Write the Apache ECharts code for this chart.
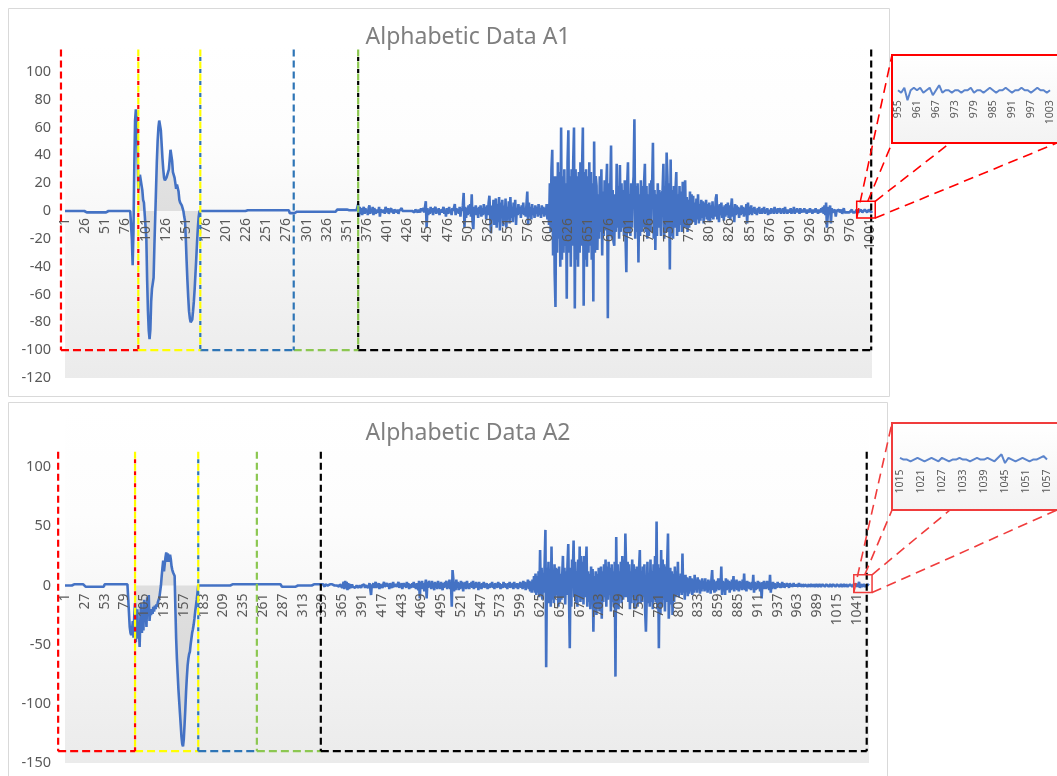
<!DOCTYPE html>
<html><head><meta charset="utf-8">
<script src="https://cdn.jsdelivr.net/npm/echarts@6/dist/echarts.min.js"></script>
<style>html,body{margin:0;padding:0;background:#fff}#c{width:1057px;height:776px}</style>
</head><body><div id="c"></div>
<script>
const titleA1 = "Alphabetic Data A1";
const titleA2 = "Alphabetic Data A2";

// ---------- A1 values (1003 samples) ----------
const a1Seg1 = [
0,0,0,0,0,0,0,0,0,0,
0,0,0,0,0,0,0,0,0,0,
0,0,0,0,0,0,0,-1,-1,-1,
-1,-1,-1,-1,-1,-1,-1,-1,-1,-1,
-1,-1,-1,-1,-1,-1,-1,-1,-1,-1,
-1,-1,0,0,0,0,0,0,0,0,
0,0,0,0,0,0,0,0,0,0,
0,0,0,0,0,0,0,0,0,0,
0,0];
const a1Seg2 = [
0,-20,-39,-15,30,65,73,70,45,15,
20,26,27,25,15,8,6,7,5,-20,
-50,-72,-86,-92,-85,-65,-56,-52,-48,-25,
-5,15,35,50,60,65,64,58,48,38,
30,24,22,21,24,26,27,30,37,44,
45,36,28,27,24,20,16,19,20,14,
8,6,5,4,2,0,-4,-7,-20,-36,
-50,-62,-72,-77,-80,-81,-78,-72,-65,-56,
-45,-34,-22,-12,-4,0];
const a1Seg3 = [
0,0,0,0,0,0,0,0,0,0,
0,0,0,0,0,0,0,0,0,0,
0,0,0,0,0,0,0,0,0,0,
0,0,0,0,0,0,0,0,0,0,
0,0,0,0,0,0,0,0,0,0,
0,0,0,0,0,0,0,0.5,0.5,0.5,
0.5,0.5,0.5,0.5,0.5,0.5,0.5,0.5,0.5,0.5,
0.5,0.5,0.5,0.5,0.5,0.5,0.5,0.5,0.5,0.5,
0.5,0.5,0.5,0.5,0.5,0.5,0.5,0.5,0.5,0.5,
0.5,0.5,0.5,0.5,0.5,0.5,0.5,0.5,0.5,0.5,
0.5,0.5,0.5,0.5,0.5,0.5,0.5,0.5,0.5,0.5,
0.5,-1.5,-1.5,-1.5,-1.5,-1.5,-1.5,-1.5,-1.5,-1.5,
-0.5,-0.5,-0.5,-0.5,-0.5,-0.5,-0.5,-0.5,-0.5,-0.5,
-0.5,-0.5,-0.5,-0.5,-0.5,-0.5,-0.5,-0.5,-0.5,-0.5,
-0.5,-0.5,-0.5,-0.5,-0.5,-0.5,-0.5,-0.5,-0.5,-0.5,
-0.5,-0.5,-0.5,-0.5,-0.5,-0.5,-0.5,-0.5,-0.5,-0.5,
-0.5,-0.5,-0.5,-0.5,-0.5,-0.5,-0.5,-0.5,-0.5,-0.5,
1,1,1,1,1,1,1,1,1,1,
1,1,1,1,0.5,0.5,0.5,0.5,0.5,0.5,
0.5,0.5,0.5,0.5,0.5,0.5];
const a1Seg4 = [
5,-4,3,-2,2,-3,1,3,-2,2,
-1,1,-3,2,4,-2,1,-1,3,-3,
2,0,-2,1,2,-1,3,-4,1,0,
2,-1,1,-2,3,1,-1,2,-2,0,
1,2,-1,1,-2,1,0,2,-1,1,
-2,0,1,-1,2,0,-1,1,0,-1,
1,0,1,-1,0,1,-1,0,1,0,
-1,1,0,2,-1,1,0,-1,2,0,
1];
const a1Seg5 = [
2,-1,3,7,-12,2,-3,1,-2,3,
-1,2,-3,1,0,3,-2,1,-1,2,
-3,1,2,-1,0,3,-2,1,-4,2,
0,-2,3,-1,1,-3,2,0,-1,5,
-3,2,-1,1,-2,3,-4,2,0,4,
13,-12,3,-5,2,-3,4,-2,5,-4,
12,-8,-13,3,-2,4,-3,2,-5,3,
-2,4,-4,2,-3,5,-2,3,-6,4,
-3,6,11,-5,-16,4,-6,8,-10,3,
9,-12,5,-8,10,-14,6,-5,8,-11,
4,-7,9,-12,3,-6,7,-9,10,-5,
3,-8,6,-4,8,-10,2,-3,5,-2,
3,-5,4,-2,6,-3,2,-4,5,14,
-10,6,-4,3,-6,5,-3,2,-5,4,
-2,3,-4,5,-3,2,-5,4,-2,3,
-4,2,-3,5,-6];
const a1Seg6 = [
5,-10,20,-15,30,44,-32,25,-45,-69,
25,-30,35,-20,28,-40,60,-35,25,-30,
30,-25,20,-63,35,58,-30,25,-40,30,
-25,35,60,-70,30,-35,25,-40,28,-30,
35,-25,30,60,-68,28,-35,30,-40,25,
-30,35,-25,28,-35,20,-65,50,-30,25,
18,-28,12,-20,25,-15,30,-32,14,-18,
22,-14,18,34,-77,20,-18,15,47,-20,
15,-22,-25,12,-15,34,-12,18,-20,33,
-15,20,-12,15,-18,22,-20,-44,18,35,
-15,12,-18,20,-12,15,25,66,-20,18,
-15,20,-37,12,-18,22,-15,18,-12,20,
34,-15,18,-20,12,-18,20,-15,22,18,
49,-20,15,-28,12,-18,20,-12,15,16,
-18,12,15,34,-20,18,-15,42,25,-15,
20,-42,37,-18,15,-20,18,-12,15,28,
-18,12,-15,18,-10,14,-15,21,-12,15,
22,-12,10,-15,8,-12,14,-10,12,-8];
const a1Seg7 = [
11,-8,6,-10,9,-6,12,-9,5,-7,
8,-5,7,-9,6,-4,8,-6,5,-7,
6,-8,4,-5,7,-6,3,-4,9,12,
-6,4,-8,5,-3,6,-5,3,-7,4,
-4,5,-3,6,-5,4,-6,3,9,-4,
2,-8,5,-3,4,-2,3,-5,2,-3,
4,-2,3,-4,2,-3,5,-9,6,-3];
const a1Seg8 = [
3,-2,4,-3,2,-1,3,-2,1,-3,
2,-1,3,-2,1,-2,2,-1,3,-2,
1,-1,2,-3,1,0,-2,2,-1,1,
-2,3,-1,1,-2,2,-1,0,2,-2,
1,-1,2,-2,3,-1,1,-2,1,0,
-1,2,-2,1,-1,3,-2,1,-1,2,
-1,1,-2,2,-1,0,1,-1,2,-1,
1,-2,1,0,-1,2,-1,1,-2,1,
0,-1,2,-1,1,-2,1,0,-1,2,
-1,3,-2,4,-3,6,-12,-4,3,-2,
4,-9,2,-1,0,-1,1,-4,0,1,
0,1,-1,0,1,-2,0,2,-1,0,
0,-1,0,0,-1,0,0,1,-1,0,
0,-1,0,1,0,-1,0,0,1,0,
-1,0,0,1,0,0,-1,0,1,0,
0,-1,0];

// ---------- A2 values (1057 samples) ----------
const a2Seg1 = [
0,0,0,0,0,0,0,0,0,0,
1,1,1,1,1,1,1,1,1,1,
1,1,1,1,1,1,1,-1,-1,-1,
-1,-1,-1,-1,-1,-1,-1,-1,-1,-1,
-1,-1,-1,-1,-1,-1,-1,-1,-1,-1,
-1,-1,1,1,1,1,1,1,1,1,
1,1,1,1,1,1,1,1,1,1,
1,1,1,1,1,1,1,1,1,1,
1,1,1,1,1];
const a2Seg2 = [
-35,-40,-42,-38,-30,-44,-25,-15,-48,-30,
-20,-45,-35,-52,-28,-15,-40,-22,-38,-12,
-30,-20,-35,-10,-26,-8,-30,-22,-25,-20,
-24,-18,-22,-17,-20,-16,-18,-14,-15,-10,
-5,0,8,15,21,12,18,24,28,20,
27,25,20,26,22,16,13,11,10,8,
-20,-45,-62,-75,-88,-98,-108,-118,-128,-134,
-136,-130,-118,-105,-90,-78,-68,-62,-58,-56,
-50,-45,-40,-37,-33,-28,-22,-17,-12,-6,
0];
const a2Seg3 = [
0,0,0,0,0,0,0,0,0,0,
0,0,0,0,0,0,0,0,0,0,
0,0,0,0,0,0,0,0,0,0,
0,0,0,0,0,0,0,0,0,0,
0,0,0,0,1,1,1,1,1,1,
1,1,1,1,1,1,1,1,1,1,
1,1,1,1,1,1,1,1,1,1,
1,1,1,1,1,1,1,1,1,1,
1,1,1,1,1,1,1,1,1,1,
1,1,1,1,1,1,1,1,1,1,
1,1,1,1,1,1,1,1,1,-1,
-1,-1,-1,-1,-1,-1,-1,-1,-1,-1,
-1,-1,-1,-1,-1,-1,-1,-1,-1,0,
0,0,0,0,0,0,0,0,0,0,
0,0,0,0,0,0,0,0,0,1,
1,1,1,1,1,1,1,1,1,1,
1];
const a2Seg4 = [
1,0,1,2,-1,1,0,1,0,1,
0,1,0,0,1,0,1,0,-1,1,
0,1,0,-1,1,0,2,-2,1,3,
-3,4,-2,3,-4,2,-3,1,2,-2,
1,-1,0,-1,-2,-1,0,-1,-2,-1,
0,-1,-2,0,-1,-1,1,-2,0,-1,
1,-2,0,2,-3,-8,1,-1,2,-2,
1,3,-2,1,-1,2,-3,1,0,2,
-2,1,3,-1,0,-2,2,-1,1,-3,
2,0,1,-2,3,-1,-2,1,2,-1,
0,3,-2,1,-1,2,-3,0,2,-1,
1,-2,3,-1,2,-3,1,0,-2,2,
-1,3,-2,1,-3,2,0,-4,4,-11,
3,-2,4,-3,2,-5,1,5,-11,3,
-2,4,-1];
const a2Seg5 = [
2,-3,4,-2,1,-4,3,-1,2,-3,
4,-2,1,-3,3,-1,-4,2,-2,3,
-1,4,-3,2,-2,5,-3,1,-18,13,
6,-5,3,-4,5,-2,3,-4,2,-3,
4,-2,3,-5,2,-1,3,-3,4,-2,
1,-3,2,-1,3,-2,4,-3,1,-2,
3,-1,2,-4,3,-2,1,-3,2,-1,
3,-2,1,-1,2,-3,1,0,-2,2,
-1,3,-2,1,-3,2,-1,1,-2,3,
-1,2,-3,1,0,-2,3,-1,2,-2,
1,-3,2,-1,3,-2,1,-1,2,-3,
3,-1,1,-2,2,-3,1,-1,3,-2,
2,-3,4,-2,3,-4,2,-1,5,-3,
4,-5,3,-6,5,-4,8,-6,10,-8];
const a2Seg6 = [
8,-6,12,-10,30,-8,15,-12,10,-6,
20,47,-69,15,-12,20,-15,12,-18,33,
-12,10,-15,18,-10,15,-8,14,-18,16,
-14,10,-12,8,25,-10,15,-16,12,-8,
18,35,-10,-53,15,-18,22,12,38,-10,
20,-15,12,-18,22,-10,33,-14,25,-12,
20,-16,25,-10,15,33,-18,12,-14,10,
-20,16,-10,14,-39,8,-15,12,-25,10,
-18,15,-22,10,16,-28,12,-14,18,-10,
22,-18,16,-12,20,-8,15,-22,18,-14,
12,-18,20,-77,41,-14,18,-20,12,-10,
20,-15,25,-12,22,-10,44,15,-10,20,
-14,18,-20,12,-15,22,-10,18,-20,14,
-12,16,-18,10,15,30,-15,12,-14,16,
-10,18,-22,-39,-12,20,-15,10,-18,22,
-14,12,-20,18,-10,25,-14,54,-20,18,
-53,15,-25,30,-18,22,-12,18,-22,16,
-14,20,44,-28,-10,15,-16,12,-25,10,
-14,16,-10,12,-8,20,-10,8,-6,10];
const a2Seg7 = [
-8,27,-6,8,-12,9,-5,7,-9,6,
-7,8,-5,6,-8,5,-6,9,-4,5,
-6,7,-3,5,-7,4,-5,6,-3,4,
-5,6,-4,3,-6,5,-3,4,-7,5,
13,-4,5,-6,3,-5,4,-3,6,-4,
5,-3,16,-8,4,-5,3,-8,6,-4,
5,-3,4,-6,3,-4,5,-3,8,-5,
4,-3,5,-4,3,-5,4,-2,3,-4,
5,-3,10,-4,3,-5,4,-2,3,-3,
2,-4,3,-2,9,-6,3,-4,2,-3,
4,-2,3,-5,2,-11,3,-2,4,-3,
2,-3,4,-2,3,-4,9,-6,2,-3,
3,-2,2,-3,1,-2,3,-1,2,-2];
const a2Seg8 = [
1,-2,3,-1,2,-2,1,-1,2,-1,
1,-2,2,-1,1,0,-1,2,-1,1,
-1,1,0,-1,2,-1,1,0,-1,1,
0,-1,1,0,1,-1,0,1,-1,0,
1,0,-1,1,0,-1,0,1,0,-1,
0,1,0,-1,0,1,0,0,-1,0,
1,0,0,-1,0,1,0,-1,0,1,
0,0,-1,0,1,0,0,-1,0,1,
0,-1,0,1,0,-1,1,0,-1,0,
0,1,0,0,-1,0,1,0,0,1,
0,-1,1,3,-2,1,0,-1,0,1,
0,-1,0,0,1,2,0];

// region annotations (sample numbers / values)
const regionBoundsA1 = [-4, 92, 169, 285, 365, 1002];
const regionBoundsA2 = [-8, 93, 176, 253, 337, 1054];
const regionColors = ['#ff0000', '#ffff00', '#2e75b6', '#8cc751', '#000000'];
const verticalColorsA1 = [['#ff0000'], ['#ffff00','#ff0000'], ['#ffff00','#2e75b6'], ['#2e75b6'], ['#8cc751','#000000'], ['#000000']];
const verticalColorsA2 = [['#ff0000'], ['#ffff00','#ff0000'], ['#ffff00','#2e75b6'], ['#8cc751'], ['#000000'], ['#000000']];
const regionTopA1 = 116, regionBottomA1 = -100;
const regionTopA2 = 113, regionBottomA2 = -140;
const fillRangeA1 = [92, 168];
const fillRangeA2 = [93, 176];
const zoomBoxA1 = [984, 7, 1007, -5];
const zoomBoxA2 = [1037, 9, 1061, -6];
const insetRangeA1 = [955, 1003];
const insetRangeA2 = [1015, 1057];

const dataA1 = [].concat(a1Seg1, a1Seg2, a1Seg3, a1Seg4, a1Seg5, a1Seg6, a1Seg7, a1Seg8);
const dataA2 = [].concat(a2Seg1, a2Seg2, a2Seg3, a2Seg4, a2Seg5, a2Seg6, a2Seg7, a2Seg8);
const catsA1 = dataA1.map((v, i) => String(i + 1));
const catsA2 = dataA2.map((v, i) => String(i + 1));
const fillA1 = dataA1.map((v, i) => (i + 1 >= fillRangeA1[0] && i + 1 <= fillRangeA1[1]) ? v : null);
const fillA2 = dataA2.map((v, i) => (i + 1 >= fillRangeA2[0] && i + 1 <= fillRangeA2[1]) ? v : null);

const FONT = '"Noto Sans", "Open Sans", sans-serif';
const LBL = '#595959';
const BLUE = '#4472c4';
const bg = {type:'linear', x:0, y:0, x2:0, y2:1, colorStops:[{offset:0,color:'#ffffff'},{offset:0.3,color:'#fdfdfd'},{offset:1,color:'#ebebeb'}]};

const G1 = {left:65, right:185, top:44, height:334};
const G2 = {left:65, right:188, top:408, height:355};
const GI1 = {left:898, right:7, top:55, height:88};
const GI2 = {left:900, right:10, top:423, height:87};
const Y1 = [-120, 120], Y2 = [-150, 150], YI1 = [-21, 14], YI2 = [-29, 21];
function zeroOffset(g, yr) { return -((0 - yr[0]) / (yr[1] - yr[0])) * g.height; }

function catAxis(grid, cats, interval, fs, margin, offset) {
  return {gridIndex:grid, type:'category', data:cats, boundaryGap:false, position:'bottom', offset:offset, z:5,
    axisLine:{show:false, onZero:false},
    axisTick:{show:false},
    axisLabel:{interval:interval, rotate:90, fontSize:fs, color:LBL, fontFamily:FONT, margin:margin}};
}
function valAxis(grid, yr, interval) {
  return {gridIndex:grid, type:'value', min:yr[0], max:yr[1], interval:interval,
    axisLine:{show:false}, axisTick:{show:false}, splitLine:{show:false},
    axisLabel:{showMaxLabel:false, fontSize:14.5, color:LBL, fontFamily:FONT, margin:14}};
}
function grid(g, extra) { return Object.assign({left:g.left, right:g.right, top:g.top, height:g.height, containLabel:false, outerBoundsMode:'none'}, extra || {}); }

const chart = echarts.init(document.getElementById('c'), null, {renderer:'canvas'});
chart.setOption({
  animation:false,
  backgroundColor:'#ffffff',
  title:[
    {text:titleA1, left:463, top:21, textAlign:'center', textStyle:{fontFamily:FONT, fontSize:23, fontWeight:'normal', color:'#7f7f7f'}},
    {text:titleA2, left:463, top:417, textAlign:'center', textStyle:{fontFamily:FONT, fontSize:23, fontWeight:'normal', color:'#7f7f7f'}}
  ],
  grid:[
    grid(G1, {show:true, borderWidth:0, backgroundColor:bg}),
    grid(G2, {show:true, borderWidth:0, backgroundColor:bg}),
    grid(GI1),
    grid(GI2)
  ],
  xAxis:[
    catAxis(0, catsA1, 24, 14, 7, zeroOffset(G1, Y1)),
    catAxis(1, catsA2, 25, 14, 8, zeroOffset(G2, Y2)),
    catAxis(2, catsA1.slice(insetRangeA1[0]-1, insetRangeA1[1]), 5, 10.5, 10, zeroOffset(GI1, YI1)),
    catAxis(3, catsA2.slice(insetRangeA2[0]-1, insetRangeA2[1]), 5, 10.5, 10, zeroOffset(GI2, YI2))
  ],
  yAxis:[
    valAxis(0, Y1, 20),
    valAxis(1, Y2, 50),
    {gridIndex:2, type:'value', min:YI1[0], max:YI1[1], show:false},
    {gridIndex:3, type:'value', min:YI2[0], max:YI2[1], show:false}
  ],
  series:[
    {type:'line', xAxisIndex:0, yAxisIndex:0, data:fillA1, symbol:'none', silent:true, z:1,
      lineStyle:{width:0}, areaStyle:{color:'rgba(150,150,150,0.35)'}},
    {type:'line', xAxisIndex:0, yAxisIndex:0, data:dataA1, symbol:'none', z:3,
      lineStyle:{color:BLUE, width:2.6}},
    {type:'line', xAxisIndex:1, yAxisIndex:1, data:fillA2, symbol:'none', silent:true, z:1,
      lineStyle:{width:0}, areaStyle:{color:'rgba(150,150,150,0.35)'}},
    {type:'line', xAxisIndex:1, yAxisIndex:1, data:dataA2, symbol:'none', z:3,
      lineStyle:{color:BLUE, width:2.6}},
    {type:'line', xAxisIndex:2, yAxisIndex:2, data:dataA1.slice(insetRangeA1[0]-1, insetRangeA1[1]), symbol:'none', z:3,
      lineStyle:{color:'#5b84cc', width:2}},
    {type:'line', xAxisIndex:3, yAxisIndex:3, data:dataA2.slice(insetRangeA2[0]-1, insetRangeA2[1]), symbol:'none', z:3,
      lineStyle:{color:'#5b84cc', width:2}}
  ]
});

// ---------- annotation graphics ----------
function P(xa, ya, s, y) { return chart.convertToPixel({xAxisIndex:xa, yAxisIndex:ya}, [s - 1, y]); }
function ln(p1, p2, color, dash, offset, width, z) {
  return {type:'line', silent:true, z:z || 20,
    shape:{x1:p1[0], y1:p1[1], x2:p2[0], y2:p2[1]},
    style:{stroke:color, lineWidth:width || 2, lineDash:dash, lineDashOffset:offset || 0}};
}
const G = [];
G.push({type:'rect', silent:true, z:-5, shape:{x:8.5, y:8.5, width:881, height:388}, style:{fill:'none', stroke:'#d9d9d9', lineWidth:1}});
G.push({type:'rect', silent:true, z:-5, shape:{x:8.5, y:402.5, width:879, height:390}, style:{fill:'none', stroke:'#d9d9d9', lineWidth:1}});

function regions(xa, ya, bounds, vcols, top, bottom) {
  for (let k = 0; k < bounds.length - 1; k++) {
    G.push(ln(P(xa, ya, bounds[k], bottom), P(xa, ya, bounds[k+1], bottom), regionColors[k], [8, 4], 0, 2.2));
  }
  for (let j = 0; j < bounds.length; j++) {
    const a = P(xa, ya, bounds[j], top), b = P(xa, ya, bounds[j], bottom);
    const cols = vcols[j];
    if (cols.length === 1) {
      G.push(ln(a, b, cols[0], [7, 4], 0, 2.2));
    } else {
      G.push(ln(a, b, cols[0], [7, 5], 0, 2.2));
      G.push(ln(a, b, cols[1], [4, 8], 4.5, 2.2, 21));
    }
  }
}
regions(0, 0, regionBoundsA1, verticalColorsA1, regionTopA1, regionBottomA1);
regions(1, 1, regionBoundsA2, verticalColorsA2, regionTopA2, regionBottomA2);

function zoomInset(xa, ya, box, big, l2x, color) {
  const tl = P(xa, ya, box[0], box[1]), br = P(xa, ya, box[2], box[3]);
  const [L, T, R, B] = big;
  G.push({type:'rect', silent:true, z:0, shape:{x:L, y:T, width:R-L, height:B-T},
    style:{fill:{type:'linear', x:0, y:0, x2:0, y2:1, colorStops:[{offset:0,color:'#ffffff'},{offset:1,color:'#f3f3f3'}]}, stroke:'none'}});
  G.push({type:'rect', silent:true, z:25, shape:{x:L, y:T, width:R-L, height:B-T}, style:{fill:'none', stroke:color, lineWidth:2}});
  G.push({type:'rect', silent:true, z:25, shape:{x:tl[0], y:tl[1], width:br[0]-tl[0], height:br[1]-tl[1]}, style:{fill:'none', stroke:color, lineWidth:1.5}});
  const dash = [10, 6];
  G.push(ln([tl[0], br[1]], [L, T], color, dash, 0, 1.6, 25));
  G.push(ln([tl[0] + 0.6*(br[0]-tl[0]), tl[1]], [L, B], color, dash, 0, 1.6, 25));
  G.push(ln([br[0], tl[1]], [l2x, B], color, dash, 0, 1.6, 25));
  G.push(ln([br[0], br[1]], [1057, B], color, dash, 0, 1.6, 25));
}
zoomInset(0, 0, zoomBoxA1, [892, 55, 1062, 143], 950, '#ff0000');
zoomInset(1, 1, zoomBoxA2, [892, 423, 1062, 510], 950, '#f03c3c');

chart.setOption({graphic:{elements:G}});

if (dataA1.length !== 1003 || dataA2.length !== 1057) {
  throw new Error('length A1=' + dataA1.length + ' A2=' + dataA2.length);
}
</script>
</body></html>
